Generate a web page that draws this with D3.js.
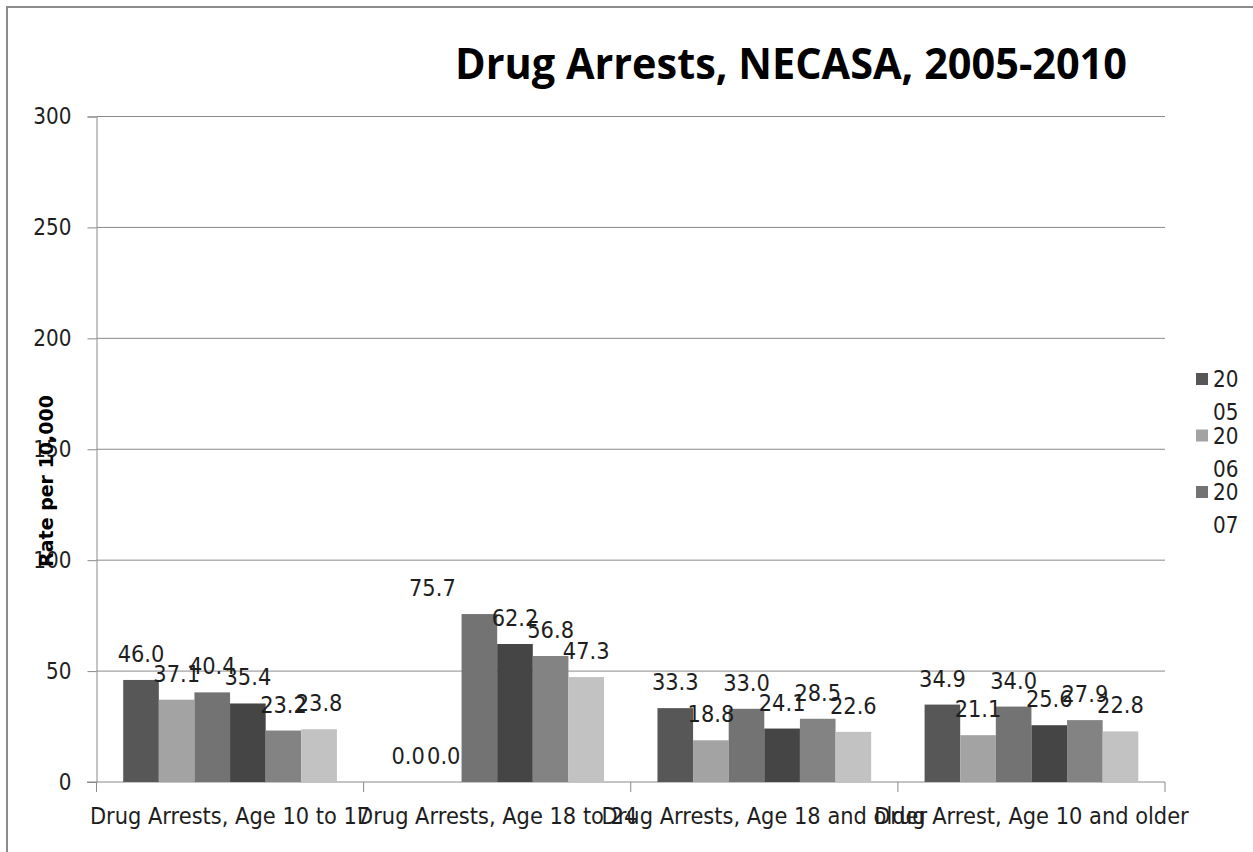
<!DOCTYPE html>
<html>
<head>
<meta charset="utf-8">
<script src="https://cdn.jsdelivr.net/npm/d3@7"></script>
<style>
  body { margin: 0; background: #fff; }
  text { font-family: "DejaVu Sans", sans-serif; fill: #1e1e1e; }
</style>
</head>
<body>
<div id="chart"></div>
<script>
const categories = [
  "Drug Arrests, Age 10 to 17",
  "Drug Arrests, Age 18 to 24",
  "Drug Arrests, Age 18 and older",
  "Drug Arrest, Age 10 and older"
];
const years = ["2005", "2006", "2007", "2008", "2009", "2010"];
const values2005 = [46.0, 0.0, 33.3, 34.9];
const values2006 = [37.1, 0.0, 18.8, 21.1];
const values2007 = [40.4, 75.7, 33.0, 34.0];
const values2008 = [35.4, 62.2, 24.1, 25.6];
const values2009 = [23.2, 56.8, 28.5, 27.9];
const values2010 = [23.8, 47.3, 22.6, 22.8];
const yTicks = [0, 50, 100, 150, 200, 250, 300];
// legend in the original is cut off after three entries
const legendYears = ["2005", "2006", "2007"];

const seriesValues = [values2005, values2006, values2007, values2008, values2009, values2010];
const colors = d3.scaleOrdinal()
  .domain(years)
  .range(["#575757", "#a3a3a3", "#737373", "#454545", "#838383", "#c2c2c2"]);

const rows = [];
categories.forEach((c, i) => {
  years.forEach((yr, j) => rows.push({ cat: c, year: yr, value: seriesValues[j][i] }));
});

// the source image is a bit taller than wide, so text gets stretched
const stretch = 1.13;
const at = (x, y) => `translate(${x},${y}) scale(1,${stretch})`;

const svg = d3.select("#chart")
  .append("svg")
  .attr("width", 1253)
  .attr("height", 852);

// chart frame
svg.append("rect")
  .attr("x", 7).attr("y", 7)
  .attr("width", 1270).attr("height", 870)
  .attr("fill", "none")
  .attr("stroke", "#8c8c8c")
  .attr("stroke-width", 2);

const x0 = d3.scaleBand()
  .domain(categories)
  .range([96.5, 1165]);

const x1 = d3.scaleBand()
  .domain(years)
  .range([0, x0.bandwidth()])
  .paddingInner(0)
  .paddingOuter(0.75);

const y = d3.scaleLinear()
  .domain([0, 300])
  .range([782, 116.5]);

// gridlines
svg.append("g")
  .selectAll("line")
  .data(yTicks.filter(t => t > 0))
  .enter()
  .append("line")
  .attr("x1", 96.5).attr("x2", 1165)
  .attr("y1", d => y(d)).attr("y2", d => y(d))
  .attr("stroke", "#8a8a8a")
  .attr("stroke-width", 1);

// y axis
const yAxis = svg.append("g")
  .attr("transform", "translate(96.5,0)")
  .call(d3.axisLeft(y).tickValues(yTicks).tickSize(9).tickPadding(16).tickFormat(d3.format("d")));
yAxis.select(".domain").attr("stroke", "#8a8a8a");
yAxis.selectAll(".tick line").attr("stroke", "#8a8a8a");
yAxis.selectAll(".tick text")
  .attr("font-size", 20)
  .attr("font-family", "DejaVu Sans")
  .attr("fill", "#1e1e1e")
  .attr("transform", `scale(1,${stretch})`);

// x axis line and category boundary ticks
svg.append("line")
  .attr("x1", 87).attr("x2", 1165)
  .attr("y1", y(0)).attr("y2", y(0))
  .attr("stroke", "#8a8a8a");

const bounds = categories.map(c => x0(c)).concat([x0.range()[1]]);
svg.append("g")
  .selectAll("line")
  .data(bounds)
  .enter()
  .append("line")
  .attr("x1", d => d).attr("x2", d => d)
  .attr("y1", y(0)).attr("y2", y(0) + 10)
  .attr("stroke", "#8a8a8a");

svg.append("g")
  .selectAll("text")
  .data(categories)
  .enter()
  .append("text")
  .attr("transform", d => at(x0(d) + x0.bandwidth() / 2, 824))
  .attr("text-anchor", "middle")
  .attr("font-size", 21)
  .text(d => d);

// bars
svg.append("g")
  .selectAll("rect")
  .data(rows)
  .enter()
  .append("rect")
  .attr("x", d => x0(d.cat) + x1(d.year))
  .attr("y", d => y(d.value))
  .attr("width", x1.bandwidth())
  .attr("height", d => y(0) - y(d.value))
  .attr("fill", d => colors(d.year));

// data labels (the 75.7 label sits to the left of its bar in the original)
const nudge = d => (d.cat === categories[1] && d.year === "2007") ? -47 : 0;
svg.append("g")
  .selectAll("text")
  .data(rows)
  .enter()
  .append("text")
  .attr("transform", d => at(x0(d.cat) + x1(d.year) + x1.bandwidth() / 2 + nudge(d), y(d.value) - 18))
  .attr("text-anchor", "middle")
  .attr("font-size", 21)
  .text(d => d.value.toFixed(1));

// y axis title
svg.append("text")
  .attr("transform", "translate(53,481) rotate(-90)")
  .attr("text-anchor", "middle")
  .attr("font-size", 19)
  .attr("font-weight", "bold")
  .style("fill", "#000")
  .text("Rate per 10,000");

// title
svg.append("text")
  .attr("transform", at(791, 79))
  .attr("text-anchor", "middle")
  .attr("font-size", 38)
  .attr("font-weight", "bold")
  .attr("textLength", 672)
  .attr("lengthAdjust", "spacingAndGlyphs")
  .style("font-family", "'Open Sans', sans-serif")
  .style("fill", "#000")
  .text("Drug Arrests, NECASA, 2005-2010");

// legend
const legend = svg.append("g")
  .selectAll("g")
  .data(legendYears)
  .enter()
  .append("g")
  .attr("transform", (d, i) => `translate(1196,${372 + i * 56.5})`);

legend.append("rect")
  .attr("width", 12).attr("height", 12)
  .attr("y", 1)
  .attr("fill", d => colors(d));

legend.append("text")
  .attr("transform", at(17, 15))
  .attr("font-size", 20)
  .text(d => d.slice(0, 2));

legend.append("text")
  .attr("transform", at(17, 48))
  .attr("font-size", 20)
  .text(d => d.slice(2));
</script>
</body>
</html>
